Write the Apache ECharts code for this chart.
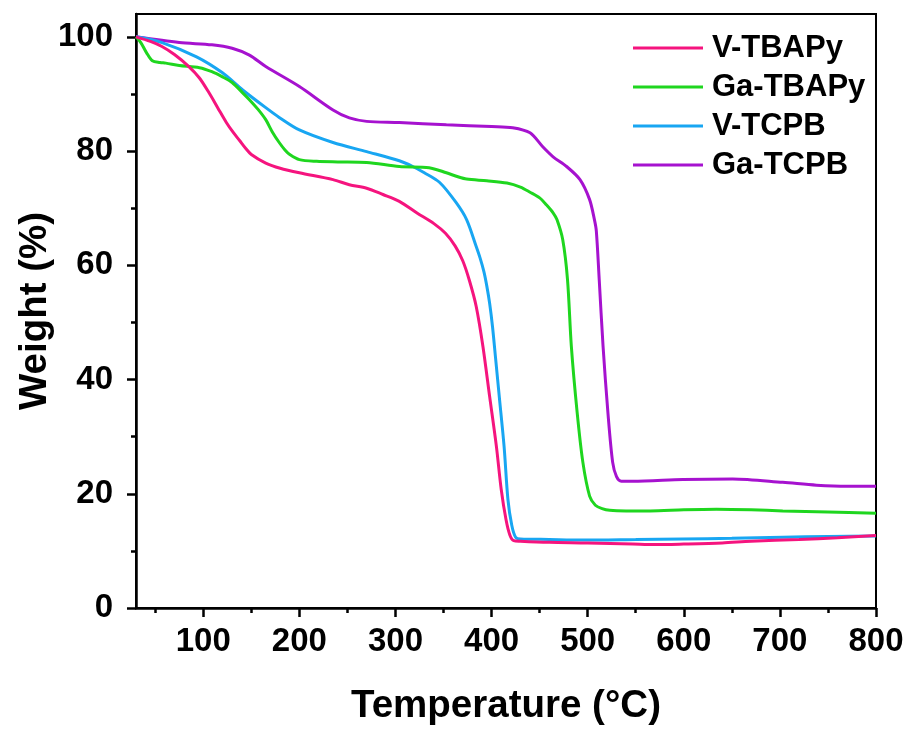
<!DOCTYPE html>
<html>
<head>
<meta charset="utf-8">
<script src="https://cdn.jsdelivr.net/npm/echarts@6/dist/echarts.min.js"></script>
<style>
html,body{margin:0;padding:0;background:#fff;}
#c{width:910px;height:731px;}
</style>
</head>
<body>
<div id="c"></div>
<script>
// ---- Data ----
var seriesNames = ['V-TBAPy', 'Ga-TBAPy', 'V-TCPB', 'Ga-TCPB'];

var tempVTBAPy = [30,45,57,70,85,96,106,115,124,131,138,144,150,165,180,200,235,252,270,287,304,322,340,352,362,370,377,384,391,398,405,410,415,419,423,430,460,500,547,570,600,640,670,720,760,800];
var wtVTBAPy   = [100,99.2,98.3,96.9,94.8,92.8,90.2,87.6,85,83.3,81.8,80.5,79.4,77.9,77,76.2,75,74.1,73.5,72.4,71.2,69.2,67.3,65.6,63.4,60.8,57.3,52.8,45.8,37,28.3,20.8,15.5,12.8,11.8,11.7,11.5,11.4,11.2,11.1,11.2,11.4,11.7,12,12.3,12.7];

var tempGaTBAPy = [30,35,41,47,55,61,75,96,109,120,130,141,148,157,165,172,179,185,190,200,218,240,270,304,335,353,365,374,395,416,430,440,450,457,464,468,474,479,483,489,495,502,508,515,523,540,565,600,634,670,703,750,800];
var wtGaTBAPy   = [100,99,97.2,95.8,95.5,95.4,95,94.6,93.9,93,92,90.2,89,87.3,85.5,83.3,81.5,80.2,79.4,78.5,78.2,78.1,78,77.3,77.1,76.2,75.5,75.1,74.8,74.4,73.7,72.8,71.8,70.6,69.2,68,64.5,57.5,45.8,34.3,25.5,19.6,18,17.4,17.1,17,17,17.2,17.3,17.2,17,16.8,16.6];

var tempVTCPB = [30,57,93,120,141,165,179,200,235,270,304,318,330,346,363,374,384,388,392,395,398,401,404,408,413,417,421,425,430,460,495,550,599,650,703,750,800];
var wtVTCPB   = [100,99,96.5,93.7,90.7,87.6,85.9,83.7,81.5,79.9,78.3,77.3,76.2,74.5,71,68,63.3,61.3,58.9,56.4,53.3,49.2,44,37,28.3,19,14.5,12.4,12.1,12,11.9,12,12.1,12.2,12.4,12.5,12.6];

var tempGaTCPB = [30,75,109,130,148,165,200,235,252,270,304,353,400,422,440,453,464,478,492,502,507,509,512,516,521,526,530,535,547,599,651,703,738,770,800];
var wtGaTCPB   = [100,99,98.6,98,96.8,94.8,91.3,87.2,85.8,85.2,85,84.6,84.3,84.1,83.2,80.8,79,77.3,75,71.5,68,66,57.5,45.8,34.3,25.5,23,22.2,22.2,22.5,22.6,22,21.5,21.3,21.3];

var xMajorTicks = [100,200,300,400,500,600,700,800];
var xMinorTicks = [50,150,250,350,450,550,650,750];
var yMajorTicks = [0,20,40,60,80,100];
var yMinorTicks = [10,30,50,70,90];

var xTitle = 'Temperature (°C)';
var yTitle = 'Weight (%)';

// ---- Build ----
function zip(t, w){ var out=[]; for(var i=0;i<t.length;i++) out.push([t[i], w[i]]); return out; }
var colors = ['#F5147E', '#1FD61F', '#18A6F2', '#A612CF'];
var allData = [zip(tempVTBAPy, wtVTBAPy), zip(tempGaTBAPy, wtGaTBAPy), zip(tempVTCPB, wtVTCPB), zip(tempGaTCPB, wtGaTCPB)];

var FONT = '"Liberation Sans", Arial, sans-serif';
var chart = echarts.init(document.getElementById('c'), null, {renderer:'canvas'});

var series = seriesNames.map(function(n, i){
  return {
    name: n, type: 'line', data: allData[i], xAxisIndex: 0, yAxisIndex: 0,
    showSymbol: false, smooth: 0.3,
    lineStyle: {width: 3, color: colors[i]}, itemStyle: {color: colors[i]},
    z: 10 - i
  };
});

var option = {
  animation: false,
  backgroundColor: '#fff',
  color: colors,
  grid: {left: 136, right: 34, top: 14, bottom: 122, show: true, borderColor: '#000', borderWidth: 2, backgroundColor: 'transparent'},
  legend: {
    orient: 'vertical', left: 628, top: 27,
    itemWidth: 70, itemHeight: 3, itemGap: 7, icon: 'rect',
    textStyle: {fontFamily: FONT, fontWeight: 'bold', fontSize: 31, color: '#000', lineHeight: 32, padding: [0,0,0,4]},
    data: seriesNames
  },
  xAxis: [{
    type: 'value', min: 30, max: 800, position: 'bottom',
    name: xTitle, nameLocation: 'middle', nameGap: 79,
    nameTextStyle: {fontFamily: FONT, fontWeight: 'bold', fontSize: 38.5, color: '#000'},
    axisLine: {show: true, lineStyle: {color: '#000', width: 2.5}},
    axisTick: {show: true, inside: false, length: 9, lineStyle: {color: '#000', width: 2.5}, customValues: xMajorTicks},
    axisLabel: {show: true, margin: 17, fontFamily: FONT, fontWeight: 'bold', fontSize: 33, color: '#000', customValues: xMajorTicks},
    splitLine: {show: false}
  },{
    type: 'value', min: 30, max: 800, position: 'bottom',
    axisLine: {show: false},
    axisTick: {show: true, inside: false, length: 5, lineStyle: {color: '#000', width: 2.5}, customValues: xMinorTicks},
    axisLabel: {show: false},
    splitLine: {show: false}
  }],
  yAxis: [{
    type: 'value', min: 0, max: 104, position: 'left',
    name: yTitle, nameLocation: 'middle', nameGap: 81, nameRotate: 90, nameMoveOverlap: false,
    nameTextStyle: {fontFamily: FONT, fontWeight: 'bold', fontSize: 38.5, color: '#000'},
    axisLine: {show: true, lineStyle: {color: '#000', width: 2.5}},
    axisTick: {show: true, inside: false, length: 9, lineStyle: {color: '#000', width: 2.5}, customValues: yMajorTicks},
    axisLabel: {show: true, margin: 23, fontFamily: FONT, fontWeight: 'bold', fontSize: 33, color: '#000', customValues: yMajorTicks},
    splitLine: {show: false}
  },{
    type: 'value', min: 0, max: 104, position: 'left',
    axisLine: {show: false},
    axisTick: {show: true, inside: false, length: 5, lineStyle: {color: '#000', width: 2.5}, customValues: yMinorTicks},
    axisLabel: {show: false},
    splitLine: {show: false}
  }],
  series: series
};
chart.setOption(option);
</script>
</body>
</html>
